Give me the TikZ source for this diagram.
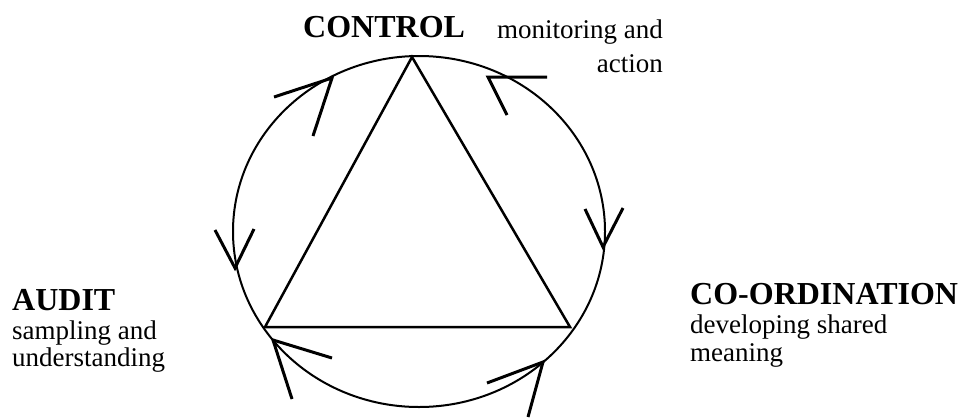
\documentclass[tikz,border=0pt]{standalone}
\usepackage{fontspec}
\setmainfont{Liberation Serif}
\begin{document}
\begin{tikzpicture}[x=1pt,y=-1pt,
  ring/.style={line width=2pt},
  tri/.style={line width=2.5pt, line join=miter},
  head/.style={line width=3pt, line join=miter},
  lbl/.style={inner sep=0pt, anchor=base west, font=\fontsize{27}{30}\selectfont},
  lblr/.style={inner sep=0pt, anchor=base east, font=\fontsize{27}{30}\selectfont},
  ttl/.style={inner sep=0pt, anchor=base west, font=\bfseries\fontsize{32}{36}\selectfont}]
\useasboundingbox (0,0) rectangle (968,418);
% ring
\coordinate (c) at (419,231.5);
\draw[ring] (c) ellipse [x radius=186pt, y radius=175.5pt];
% triangle
\coordinate (top) at (412,57);
\coordinate (bl) at (265,327);
\coordinate (br) at (570,327);
\draw[tri] (top) -- (bl) -- (br) -- cycle;
% arrowheads
\coordinate (t1) at (332,78);  \coordinate (a1) at (274,97);  \coordinate (b1) at (313,136);
\coordinate (t2) at (488,77);  \coordinate (a2) at (547,77);  \coordinate (b2) at (507,115);
\coordinate (t3) at (603,247); \coordinate (a3) at (585,209); \coordinate (b3) at (623,208);
\coordinate (t4) at (235,268); \coordinate (a4) at (215,230); \coordinate (b4) at (254,229);
\coordinate (t5) at (273,340); \coordinate (a5) at (332,358); \coordinate (b5) at (292,399);
\coordinate (t6) at (543,362); \coordinate (a6) at (487,383); \coordinate (b6) at (528,417);
\foreach \i in {1,...,6} { \draw[head] (a\i) -- (t\i) -- (b\i); }
% labels
\node[ttl] (control) at (303,37) {CONTROL};
\node[lblr] (mon1) at (663,38) {monitoring and};
\node[lblr] (mon2) at (663,72) {action};
\node[ttl] (audit) at (12,310) {AUDIT};
\node[lbl] (aud1) at (12,339) {sampling and};
\node[lbl] (aud2) at (12,366) {understanding};
\node[ttl] (coord) at (690,304) {CO-ORDINATION};
\node[lbl] (co1) at (690,333) {developing shared};
\node[lbl] (co2) at (690,361) {meaning};
\end{tikzpicture}
\end{document}
